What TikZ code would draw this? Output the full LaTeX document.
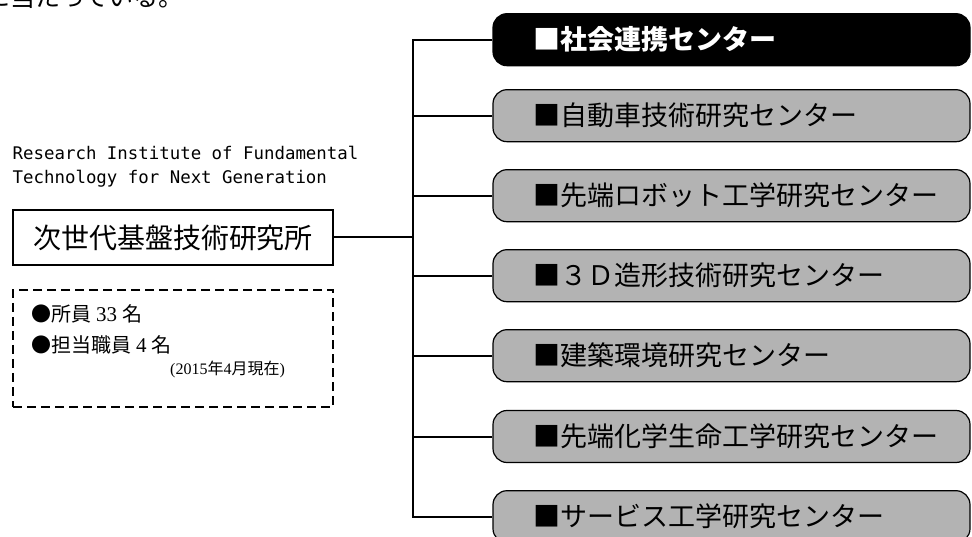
\documentclass[tikz,border=0pt]{standalone}
\usepackage{fontspec}
\newfontfamily\cjk{Noto Sans CJK JP}
\newfontfamily\monoen{DejaVu Sans Mono}
\newfontfamily\serifen{Liberation Serif}
\definecolor{boxgray}{RGB}{179,179,179}
\tikzset{
  cbox/.style={draw=black, line width=1.2pt, fill=boxgray, rounded corners=14pt,
    minimum width=477pt, minimum height=52pt, inner sep=0pt},
  cboxhi/.style={cbox, fill=black},
  clabel/.style={anchor=west, inner sep=0pt, font={\cjk\fontsize{27}{30}\selectfont}},
  conn/.style={line width=2pt},
  entext/.style={anchor=base west, inner sep=0pt, font={\monoen\fontsize{17.4}{20}\selectfont}},
  stafftext/.style={anchor=base west, inner sep=0pt, font={\cjk\fontsize{20}{22}\selectfont}},
}
\begin{document}
\begin{tikzpicture}[x=1pt,y=-1pt]
\useasboundingbox (0,0) rectangle (972,537);
% cropped running text at the very top
\node[anchor=base west, inner sep=0pt, font={\cjk\fontsize{25}{25}\selectfont}] (toptext) at (-15,6.5) {に当たっている。};
% institute
\node[entext] (en1) at (12.5,159.5) {Research Institute of Fundamental};
\node[entext] (en2) at (12.5,183.5) {Technology for Next Generation};
\node[draw, line width=2pt, minimum width=320pt, minimum height=55pt, inner sep=0pt,
      font={\cjk\fontsize{28}{30}\selectfont}] (inst) at (173,237.5) {次世代基盤技術研究所};
% staff box
\node[draw, line width=2pt, dash pattern=on 9pt off 5pt, minimum width=320pt, minimum height=117pt, inner sep=0pt] (staff) at (173,348.5) {};
\node[stafftext] (s1) at (31,322) {●所員\hspace{5pt}{\serifen\fontsize{21}{22}\selectfont 33}\hspace{5pt}名};
\node[stafftext] (s2) at (31,352.5) {●担当職員\hspace{5pt}{\serifen\fontsize{21}{22}\selectfont 4}\hspace{5pt}名};
\node[anchor=base west, inner sep=0pt, font={\serifen\fontsize{16}{18}\selectfont}] (s3) at (170,374) {(2015{\cjk 年}4{\cjk 月現在})};
% centres
\node[cboxhi] (b1) at (731.5,39.7) {};
\node[cbox] (b2) at (731.5,115.7) {};
\node[cbox] (b3) at (731.5,195.7) {};
\node[cbox] (b4) at (731.5,275.7) {};
\node[cbox] (b5) at (731.5,355.7) {};
\node[cbox] (b6) at (731.5,436.5) {};
\node[cbox] (b7) at (731.5,516.7) {};
\node[clabel, text=white, font={\cjk\bfseries\fontsize{27}{30}\selectfont}] (t1) at ([xshift=41pt]b1.west) {■社会連携センター};
\node[clabel] (t2) at ([xshift=41pt]b2.west) {■自動車技術研究センター};
\node[clabel] (t3) at ([xshift=41pt]b3.west) {■先端ロボット工学研究センター};
\node[clabel] (t4) at ([xshift=41pt]b4.west) {■３Ｄ造形技術研究センター};
\node[clabel] (t5) at ([xshift=41pt]b5.west) {■建築環境研究センター};
\node[clabel] (t6) at ([xshift=41pt]b6.west) {■先端化学生命工学研究センター};
\node[clabel] (t7) at ([xshift=41pt]b7.west) {■サービス工学研究センター};
% connectors
\coordinate (trunk) at (412.7,237.5);
\draw[conn] (inst.east) -- (trunk);
\draw[conn] (b1.west) -- (b1.west -| trunk) -- (b7.west -| trunk) -- (b7.west);
\foreach \b in {b2,b3,b4,b5,b6}{
  \draw[conn] (\b.west) -- (\b.west -| trunk);
}
\end{tikzpicture}
\end{document}
